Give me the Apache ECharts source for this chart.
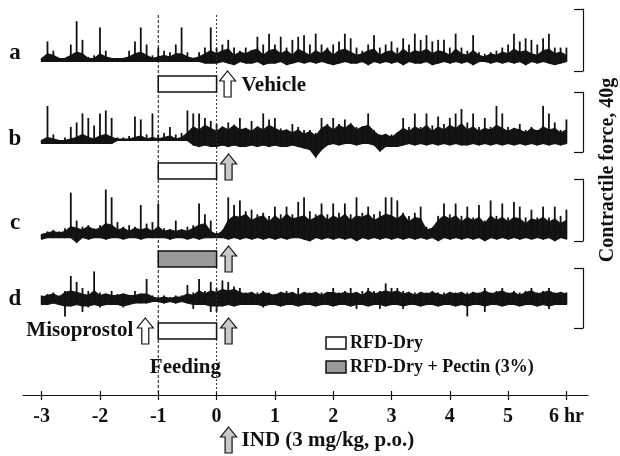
<!DOCTYPE html>
<html>
<head>
<meta charset="utf-8">
<script src="https://cdn.jsdelivr.net/npm/echarts@6/dist/echarts.min.js"></script>
<style>
html,body{margin:0;padding:0;background:#fff;}
#chart{width:620px;height:456px;}
</style>
</head>
<body>
<div id="chart"></div>
<script>
// ---- Data (time sampled every 0.1 hr from -3 hr; values = contractile force in g relative to each trace's baseline) ----
const tStart = -3;
const tStep = 0.1;
const xTicks = [-3, -2, -1, 0, 1, 2, 3, 4, 5, 6];
const xTickLabels = ['-3', '-2', '-1', '0', '1', '2', '3', '4', '5', '6 hr'];
const traceNames = ['a', 'b', 'c', 'd'];

// trace a (Vehicle): spike peaks, noise-band top, noise-band bottom
const aHi = [1,12,6,1,1,10,25,13,2,3, 21,6,1,1,1,6,12,21,10,3, 8,6,5,10,21,5,1,5,8,21,
  8,10,13,8,6,8,6,15,10,17, 10,15,8,13,15,16,10,17,10,8, 10,12,17,14,8,6,10,16,8,10,
  12,8,14,10,17,13,16,12,13,13, 8,17,8,6,16,5,4,5,6,8, 10,17,12,14,13,10,14,17,8,8,8];
const aTop = [1,4,3,1,1,3,5,4,1,1, 4,2,1,1,1,2,4,5,3,1, 2,3,2,4,4,2,1,2,4,6,
  4,6,7,3,5,4,6,7,3,6, 7,4,6,3,7,5,3,6,4,7, 3,6,7,5,3,4,6,7,3,5,
  6,3,7,4,6,5,7,4,6,5, 3,7,4,3,6,3,2,4,3,5, 4,7,5,6,4,3,6,7,4,5,3];
const aLo = [-1,-1,-1,-1,-1,-1,-1,-1,-1,-1, -1,-1,-1,-1,-1,-1,-1,-1,-1,-1, -1,-1,-1,-1,-1,-1,-1,-1,-2,-2,
  -2,-1,-2,-3,-1,-2,-2,-1,-3,-2, -2,-1,-3,-2,-1,-2,-1,-2,-1,-2, -3,-2,-1,-2,-2,-1,-3,-1,-2,-1,
  -2,-1,-3,-1,-2,-2,-1,-3,-2,-1, -2,-1,-2,-1,-3,-1,-1,-2,-1,-2, -1,-2,-1,-3,-1,-2,-1,-2,-3,-2,-1];

// trace b (IND)
const bHi = [1,24,5,1,3,10,13,19,16,11, 19,21,16,3,3,4,17,15,5,19, 5,6,10,5,6,21,19,19,16,14,
  12,10,13,10,16,9,14,10,19,15, 16,9,8,12,10,8,8,6,16,12, 16,12,15,10,10,10,19,8,5,5,
  5,6,16,10,19,10,19,11,17,12, 16,19,22,13,19,10,16,10,24,19, 10,9,12,8,10,8,24,19,13,8,15];
const bTop = [1,3,2,1,1,2,3,5,3,2, 4,5,3,2,2,2,3,4,2,3, 2,3,4,2,3,6,10,8,11,9,
  7,10,8,11,8,9,7,10,8,11, 9,7,8,6,8,5,7,4,9,11, 8,11,9,12,8,10,11,7,4,5,
  3,6,9,7,10,8,11,7,10,8, 11,9,12,8,10,7,9,8,11,9, 7,9,8,6,9,7,10,8,9,6,8];
const bLo = [-1,-1,-1,-1,-1,-1,-1,-1,-1,-1, -1,-1,-1,1,1,1,1,1,1,1, 1,1,1,1,1,1,-2,-3,-2,-3,
  -3,-2,-3,-2,-3,-3,-2,-3,-2,-3, -2,-3,-3,-2,-3,-4,-5,-10,-5,-2, -1,-2,-1,-1,-2,-1,-1,-2,-6,-3,
  -3,-3,-2,-1,-2,-1,-2,-1,-2,-1, -2,-1,-2,-2,-1,-2,-1,-2,-1,-2, -1,-2,-1,-2,-1,-2,-1,-2,-1,-2,-1];

// trace c (RFD-Dry + Pectin)
const cHi = [1,3,4,3,5,28,10,6,7,5, 7,30,25,9,6,7,6,20,8,9, 21,5,4,10,4,6,7,21,14,10,
  2,4,25,20,23,16,17,14,15,13, 19,14,19,14,22,25,16,14,21,14, 21,15,21,14,25,15,19,14,16,25,
  25,23,15,13,15,19,6,5,13,21, 14,21,13,19,12,20,10,23,13,21, 12,22,19,12,17,12,19,12,19,13,17];
const cTop = [1,2,3,2,3,6,5,4,6,4, 5,8,7,4,5,3,5,4,5,3, 6,3,4,3,4,3,5,7,8,3,
  1,3,10,13,12,14,10,12,13,9, 13,10,14,11,12,13,10,12,14,10, 13,11,14,10,13,12,14,10,12,14,
  13,11,14,9,12,11,4,5,10,13, 11,13,9,12,10,12,8,13,10,12, 9,12,11,8,11,10,12,9,11,8,10];
const cLo = [-2,-1,-1,-1,-1,-1,-4,-1,-2,-1, -1,-2,-1,-1,-2,-1,-1,-2,-1,-1, -1,-1,-2,-1,-1,-2,-1,-2,-1,-1,
  -1,-1,-2,-1,-2,-1,-2,-1,-2,-1, -2,-1,-2,-1,-1,-2,-3,-1,-2,-1, -2,-1,-2,-1,-3,-1,-2,-1,-2,-1,
  -2,-1,-2,-1,-2,-1,-2,-1,-3,-1, -2,-1,-2,-1,-2,-1,-3,-1,-2,-1, -2,-1,-2,-1,-2,-1,-2,-1,-3,-1,-2];

// trace d (Misoprostol): also has downward deflections
const dHi = [3,4,5,3,6,16,12,8,6,19, 5,4,6,4,4,3,6,4,14,3, 2,3,2,3,3,10,5,14,6,12,
  8,13,12,9,8,5,5,5,6,5, 4,5,6,5,8,5,5,5,5,5, 8,5,6,8,5,6,8,6,6,11,
  8,8,6,5,5,5,5,6,5,5, 5,5,5,5,5,5,8,5,6,8, 5,6,5,6,8,5,6,8,5,5,5];
const dTop = [2,3,4,2,5,6,5,4,3,6, 3,4,3,3,4,3,3,4,4,2, 1,2,1,2,2,4,3,6,4,6,
  5,7,6,7,5,4,5,3,5,4, 3,5,4,5,3,5,4,5,3,5, 5,4,5,4,5,3,6,4,5,6,
  5,6,4,5,3,5,4,5,4,3, 5,4,5,3,5,4,6,4,5,6, 4,5,3,5,6,4,5,6,4,5,4];
const dLo = [-3,-3,-2,-3,-4,-4,-3,-4,-4,-3, -4,-3,-3,-3,-4,-3,-2,-2,-2,-1, -1,-2,-1,-2,-1,-2,-3,-3,-3,-4,
  -4,-4,-3,-4,-3,-3,-3,-3,-4,-3, -3,-4,-3,-3,-4,-3,-3,-4,-3,-3, -4,-3,-3,-4,-3,-3,-4,-3,-3,-4,
  -3,-3,-4,-3,-3,-4,-3,-3,-4,-3, -3,-4,-3,-4,-3,-3,-4,-3,-3,-4, -3,-3,-4,-3,-3,-4,-3,-4,-3,-3,-3];
const dDown = [-3,-3,-2,-3,-11,-4,-3,-8,-5,-3, -5,-3,-3,-3,-5,-3,-2,-2,-2,-1, -1,-2,-1,-2,-1,-2,-6,-3,-3,-8,
  -8,-4,-3,-4,-3,-3,-3,-3,-5,-3, -3,-3,-3,-3,-3,-3,-3,-3,-3,-3, -3,-3,-3,-3,-6,-3,-3,-3,-6,-3,
  -3,-3,-6,-3,-3,-3,-3,-3,-3,-3, -3,-3,-3,-11,-3,-3,-8,-3,-3,-3, -3,-3,-3,-3,-3,-3,-3,-6,-3,-3,-3];

// ---- Layout ----
const FONT = '"Liberation Serif", "Times New Roman", serif';
const X_MIN = -3.32, X_MAX = 6.37;
const GRID_LEFT = 23, GRID_RIGHT = 32;
const traceLayout = [
  { top: 9,   height: 62, yMin: -7.1,  yMax: 32.9 },
  { top: 92,  height: 60, yMin: -6.7,  yMax: 33.3 },
  { top: 179, height: 62, yMin: -3.2,  yMax: 36.8 },
  { top: 268, height: 60, yMin: -18.7, yMax: 21.3 }
];
const traceHi = [aHi, bHi, cHi, dHi];
const traceTop = [aTop, bTop, cTop, dTop];
const traceLo = [aLo, bLo, cLo, dLo];
const traceDown = [aLo, bLo, cLo, dDown];
const INK = '#111';

function tracePoints(i) {
  return traceHi[i].map((hi, k) => [tStart + k * tStep, traceLo[i][k], traceTop[i][k], hi, traceDown[i][k]]);
}

const grids = [], xAxes = [], yAxes = [], series = [];
traceLayout.forEach((L, i) => {
  grids.push({ left: GRID_LEFT, right: GRID_RIGHT, top: L.top, height: L.height });
  xAxes.push({ type: 'value', gridIndex: i, min: X_MIN, max: X_MAX, show: false });
});
traceLayout.forEach((L, i) => {
  yAxes.push({ type: 'value', gridIndex: i, min: L.yMin, max: L.yMax, show: false });
});
// 40 g scale brackets
traceLayout.forEach((L, i) => {
  yAxes.push({
    type: 'value', gridIndex: i, position: 'right', offset: -5,
    min: 0, max: 40, interval: 40,
    axisLine: { show: true, lineStyle: { color: INK, width: 1.2 } },
    axisTick: { show: true, inside: true, length: 9, lineStyle: { color: INK, width: 1.2 } },
    axisLabel: { show: false }, splitLine: { show: false }
  });
});
// main time axis grid (+ twin grid for the inner half of the ticks)
grids.push({ left: GRID_LEFT, right: GRID_RIGHT, top: 15, bottom: 61 });
grids.push({ left: GRID_LEFT, right: GRID_RIGHT, top: 15, bottom: 61 });
xAxes.push({
  type: 'value', gridIndex: 4, min: X_MIN, max: X_MAX, position: 'bottom',
  axisLine: { show: true, onZero: false, lineStyle: { color: INK, width: 1.2 } },
  axisTick: { show: true, customValues: xTicks, length: 5, lineStyle: { color: INK, width: 1.2 } },
  axisLabel: {
    show: true, customValues: xTicks, margin: 12,
    formatter: (v) => { const i = xTicks.indexOf(Math.round(v)); return i >= 0 ? xTickLabels[i] : ''; },
    fontFamily: FONT, fontWeight: 'bold', fontSize: 20, color: INK
  },
  splitLine: { show: false }
});
xAxes.push({
  type: 'value', gridIndex: 5, min: X_MIN, max: X_MAX, position: 'bottom',
  axisLine: { show: false },
  axisTick: { show: true, inside: true, customValues: xTicks, length: 4, lineStyle: { color: INK, width: 1.2 } },
  axisLabel: { show: false }, splitLine: { show: false }
});
yAxes.push({ type: 'value', gridIndex: 4, min: 0, max: 1, show: false });
yAxes.push({ type: 'value', gridIndex: 5, min: 0, max: 1, show: false });

traceNames.forEach((name, i) => {
  const pts = tracePoints(i);
  // solid noise band between band bottom and band top
  series.push({
    name: name + '-band', type: 'custom', xAxisIndex: i, yAxisIndex: i,
    data: pts, clip: false, z: 3, animation: false,
    encode: { x: 0, y: [1, 2] },
    renderItem: (params, api) => {
      const k = params.dataIndex;
      if (k >= pts.length - 1) return null;
      const p = pts[k], q = pts[k + 1];
      return {
        type: 'polygon',
        shape: { points: [api.coord([p[0], p[1]]), api.coord([q[0], q[1]]), api.coord([q[0], q[2]]), api.coord([p[0], p[2]])] },
        style: { fill: '#141414', stroke: '#141414', lineWidth: 1.1 }
      };
    }
  });
  // contraction spikes (and downward deflections)
  series.push({
    name: name, type: 'custom', xAxisIndex: i, yAxisIndex: i,
    data: pts, clip: false, z: 4, animation: false,
    encode: { x: 0, y: [4, 3] },
    renderItem: (params, api) => {
      const lo = api.coord([api.value(0), api.value(4)]);
      const hi = api.coord([api.value(0), api.value(3)]);
      return { type: 'line', shape: { x1: lo[0], y1: lo[1], x2: hi[0], y2: hi[1] }, style: { stroke: INK, lineWidth: 1.8 } };
    }
  });
});

const chart = echarts.init(document.getElementById('chart'), null, { renderer: 'canvas' });
chart.setOption({
  backgroundColor: '#fff',
  animation: false,
  grid: grids, xAxis: xAxes, yAxis: yAxes, series: series
});

// ---- annotations positioned from the time axis ----
const xm1 = chart.convertToPixel({ xAxisIndex: 4 }, -1);
const x0 = chart.convertToPixel({ xAxisIndex: 4 }, 0);
const axisY = 395;

function arrow(cx, top, h, fill) {
  const hw = 8, sw = 3.5, hh = 10;
  return {
    type: 'polygon', z: 60,
    shape: { points: [[cx, top], [cx + hw, top + hh], [cx + sw, top + hh], [cx + sw, top + h], [cx - sw, top + h], [cx - sw, top + hh], [cx - hw, top + hh]] },
    style: { fill: fill, stroke: INK, lineWidth: 1.2 }
  };
}
function box(y, h, fill) {
  return { type: 'rect', z: 60, shape: { x: xm1, y: y, width: x0 - xm1, height: h }, style: { fill: fill, stroke: INK, lineWidth: 1.5 } };
}
function label(text, x, y, size, align, extra) {
  return Object.assign({
    type: 'text', z: 70, x: x, y: y,
    style: { text: text, fill: INK, font: 'bold ' + size + 'px ' + FONT, align: align, verticalAlign: 'middle' }
  }, extra || {});
}

const gray = '#c9c9c9';
const graphics = [
  { type: 'line', z: 5, shape: { x1: xm1, y1: 15, x2: xm1, y2: axisY }, style: { stroke: INK, lineWidth: 1, lineDash: [3, 2] } },
  { type: 'line', z: 5, shape: { x1: x0, y1: 15, x2: x0, y2: axisY }, style: { stroke: '#333', lineWidth: 1, lineDash: [2, 2] } },
  box(76, 16, '#fff'), box(163, 16, '#fff'), box(251, 16, '#9a9a9a'), box(323, 16, '#fff'),
  arrow(x0 + 11, 71, 26, '#fff'),
  arrow(x0 + 12, 154, 26, gray),
  arrow(x0 + 12, 246, 26, gray),
  arrow(x0 + 12, 318, 26, gray),
  arrow(xm1 - 13, 318, 26, '#fff'),
  arrow(x0 + 12, 427, 26, gray),
  label('Vehicle', x0 + 25, 86, 21, 'left'),
  label('Misoprostol', xm1 - 25, 331, 21, 'right'),
  label('Feeding', (xm1 + x0) / 2 - 2, 368, 21, 'center'),
  label('IND (3 mg/kg, p.o.)', x0 + 25, 441, 21, 'left'),
  label('a', 15, 53, 23, 'center'),
  label('b', 15, 139, 23, 'center'),
  label('c', 15, 223, 23, 'center'),
  label('d', 15, 299, 23, 'center'),
  label('Contractile force, 40g', 608, 170, 20, 'center', { rotation: Math.PI / 2 }),
  { type: 'rect', z: 60, shape: { x: 326, y: 337, width: 20, height: 12 }, style: { fill: '#fff', stroke: INK, lineWidth: 1.5 } },
  { type: 'rect', z: 60, shape: { x: 326, y: 361, width: 20, height: 12 }, style: { fill: '#9a9a9a', stroke: INK, lineWidth: 1.5 } },
  label('RFD-Dry', 350, 343, 18, 'left'),
  label('RFD-Dry + Pectin (3%)', 350, 367, 18, 'left')
];
chart.setOption({ graphic: { elements: graphics } });
</script>
</body>
</html>
